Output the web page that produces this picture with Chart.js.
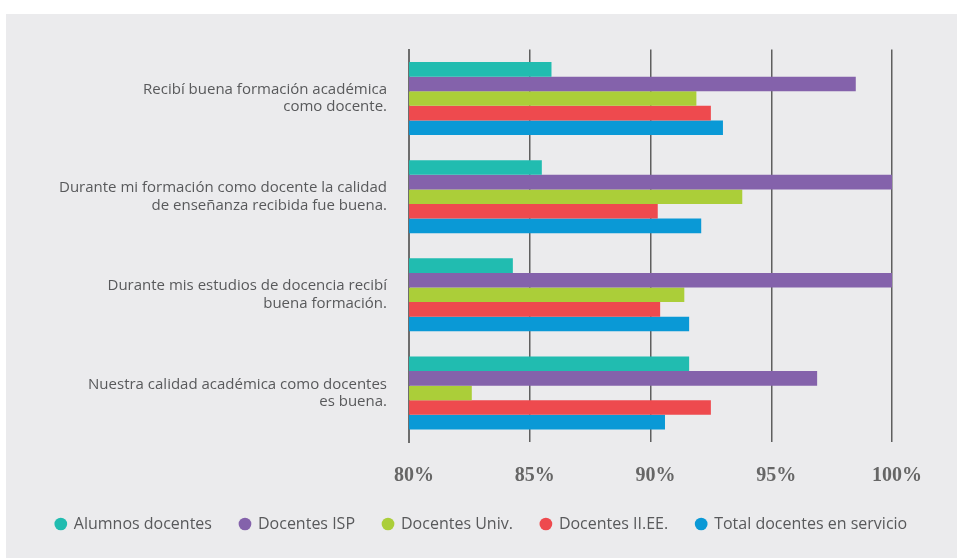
<!DOCTYPE html>
<html>
<head>
<meta charset="utf-8">
<script src="https://cdn.jsdelivr.net/npm/chart.js@4/dist/chart.umd.min.js"></script>
<style>
    html, body { margin: 0; padding: 0; background: #ffffff; overflow: hidden; }
    #fondo {
        position: absolute;
        left: 6px; top: 14px;
        width: 951px; height: 544px;
        background: #ebebed;
        overflow: hidden;
    }
    #grafica { position: absolute; left: 0; top: 0; }
</style>
</head>
<body>
<div id="fondo">
    <canvas id="grafica" width="951" height="560"></canvas>
</div>
<script>
const categorias = [
    ['Recibí buena formación académica', 'como docente.'],
    ['Durante mi formación como docente la calidad', 'de enseñanza recibida fue buena.'],
    ['Durante mis estudios de docencia recibí', 'buena formación.'],
    ['Nuestra calidad académica como docentes', 'es buena.']
];

const alumnosDocentes = [85.9, 85.5, 84.3, 91.6];
const docentesISP = [98.5, 100, 100, 96.9];
const docentesUniv = [91.9, 93.8, 91.4, 82.6];
const docentesIIEE = [92.5, 90.3, 90.4, 92.5];
const totalServicio = [93.0, 92.1, 91.6, 90.6];

const ticksX = [80, 85, 90, 95, 100];

function serie(nombre, datos, color){
    return {
        label: nombre,
        data: datos,
        backgroundColor: color,
        borderWidth: 0,
        barPercentage: 1,
        categoryPercentage: 0.745
    };
}

new Chart(document.getElementById('grafica'), {
    type: 'bar',
    data: {
        labels: categorias,
        datasets: [
            serie('Alumnos docentes', alumnosDocentes, '#21bcb0'),
            serie('Docentes ISP', docentesISP, '#8462ab'),
            serie('Docentes Univ.', docentesUniv, '#abce39'),
            serie('Docentes II.EE.', docentesIIEE, '#ee4a4e'),
            serie('Total docentes en servicio', totalServicio, '#0a99d6')
        ]
    },
    options: {
        indexAxis: 'y',
        responsive: false,
        animation: false,
        layout: { padding: { top: 35.5, right: 0, bottom: 32, left: 0 } },
        scales: {
            x: {
                min: 80,
                max: 100,
                afterBuildTicks: function(escala){
                    escala.ticks = ticksX.map(v => ({ value: v }));
                },
                afterFit: function(escala){
                    escala.height = 46;
                    escala.paddingRight = 65;
                },
                grid: { color: '#5f5f5f', lineWidth: 1.5, drawTicks: false },
                border: { display: false },
                ticks: {
                    padding: 22,
                    labelOffset: 5,
                    color: '#666666',
                    font: { family: 'Liberation Serif', size: 20, weight: 'bold' },
                    callback: function(v){ return v + '%'; }
                }
            },
            y: {
                z: 1,
                afterFit: function(escala){
                    escala.width = 403;
                    escala.paddingTop = 0;
                    escala.paddingBottom = 0;
                },
                grid: { display: false, drawTicks: false },
                border: { display: true, color: '#6d6d6d', width: 2 },
                ticks: {
                    padding: 22,
                    color: '#58595b',
                    font: { family: 'Open Sans', size: 15, lineHeight: 1.15 }
                }
            }
        },
        plugins: {
            tooltip: { enabled: false },
            legend: {
                position: 'bottom',
                labels: {
                    usePointStyle: true,
                    pointStyle: 'circle',
                    boxWidth: 10,
                    boxHeight: 9,
                    padding: 28,
                    color: '#58595b',
                    font: { family: 'Open Sans', size: 16 }
                }
            }
        }
    }
});
</script>
</body>
</html>
